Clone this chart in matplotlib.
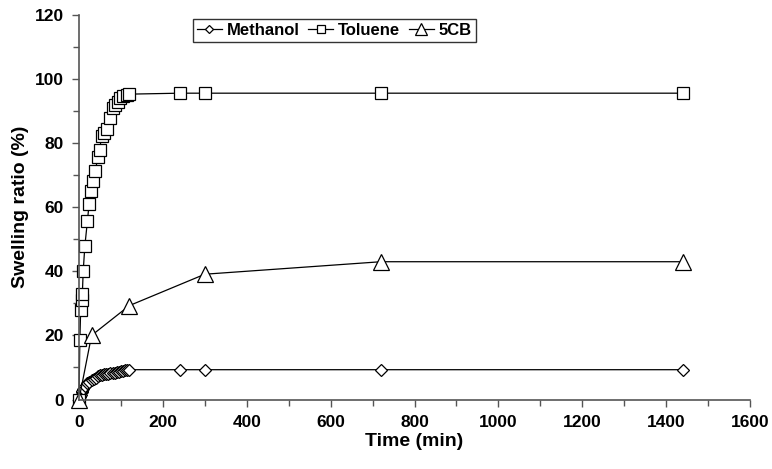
import numpy as np
import matplotlib
matplotlib.use('Agg')
import matplotlib.pyplot as plt
from matplotlib.ticker import MultipleLocator

'''
    Swelling ratio vs time, read off the reference figure
'''

meth_t = [0, 2, 4, 6, 8, 10, 15, 20, 25, 30, 35, 40, 45, 50, 55, 60, 65, 70,
          75, 80, 85, 90, 95, 100, 105, 110, 115, 120, 240, 300, 720, 1440]
meth_y = [0, 0.8, 1.5, 2.2, 2.8, 3.4, 4.3, 5.0, 5.6, 6.0, 6.5, 6.8, 7.2, 7.5,
          7.7, 7.9, 8.0, 8.1, 8.2, 8.3, 8.3, 8.5, 8.7, 8.9, 9.0, 9.2, 9.3, 9.3,
          9.3, 9.3, 9.3, 9.3]

tol_t = [0, 2, 4, 6, 8, 10, 14, 20, 24, 29, 34, 39, 45, 49, 54, 60, 66, 74,
         80, 86, 92, 98, 106, 114, 120, 240, 300, 720, 1440]
tol_y = [0, 18.5, 28, 31, 33, 40, 48, 55.6, 61, 65, 68.3, 71.3, 75.8, 77.8,
         82.3, 83.3, 84.5, 88, 91, 92, 93, 94.2, 94.6, 95, 95.3, 95.6, 95.6,
         95.6, 95.6]

cb_t = [0, 30, 120, 300, 720, 1440]
cb_y = [0, 20, 29.3, 39.1, 43, 43]

plt.rcParams['font.family'] = ['Liberation Sans', 'DejaVu Sans']
plt.rcParams['font.weight'] = 'bold'

fig = plt.figure(figsize=(7.72, 4.69), dpi=100)
ax = fig.add_axes([79/772, 69.5/469, 671/772, 384.5/469])

line_kw = dict(color='black', lw=0.9, mfc='white', mec='black', mew=0.9,
               clip_on=False)
ax.plot(meth_t, meth_y, marker='D', ms=6.5, label='Methanol', **line_kw)
ax.plot(tol_t, tol_y, marker='s', ms=9, label='Toluene', **line_kw)
ax.plot(cb_t, cb_y, marker='^', ms=12, label='5CB', **line_kw)

ax.set_xlim(0, 1600)
ax.set_ylim(0, 120)
ax.xaxis.set_major_locator(MultipleLocator(200))
ax.xaxis.set_minor_locator(MultipleLocator(100))
ax.yaxis.set_major_locator(MultipleLocator(20))
ax.yaxis.set_minor_locator(MultipleLocator(10))

for s in ['top', 'right']:
    ax.spines[s].set_visible(False)
for s in ['left', 'bottom']:
    ax.spines[s].set_color('#555555')
    ax.spines[s].set_linewidth(1.2)
ax.tick_params(which='both', direction='out', color='#555555', width=1.0,
               labelsize=12.5, pad=6)
ax.tick_params(which='major', length=5)
ax.tick_params(which='minor', length=4)
for lab in ax.get_xticklabels() + ax.get_yticklabels():
    lab.set_fontweight('bold')

ax.set_xlabel('Time (min)', fontsize=14, fontweight='bold', labelpad=2)
ax.set_ylabel('Swelling ratio (%)', fontsize=14, fontweight='bold', labelpad=4)

leg = ax.legend(loc='upper left', bbox_to_anchor=(0.157, 1.012), ncol=3,
                frameon=True, fancybox=False, edgecolor='black',
                handlelength=1.5, handletextpad=0.3, columnspacing=0.5,
                borderpad=0.25, prop={'weight': 'bold', 'size': 12},
                markerscale=0.7)
leg.get_frame().set_linewidth(1.0)

plt.savefig('out.png', dpi=100)
